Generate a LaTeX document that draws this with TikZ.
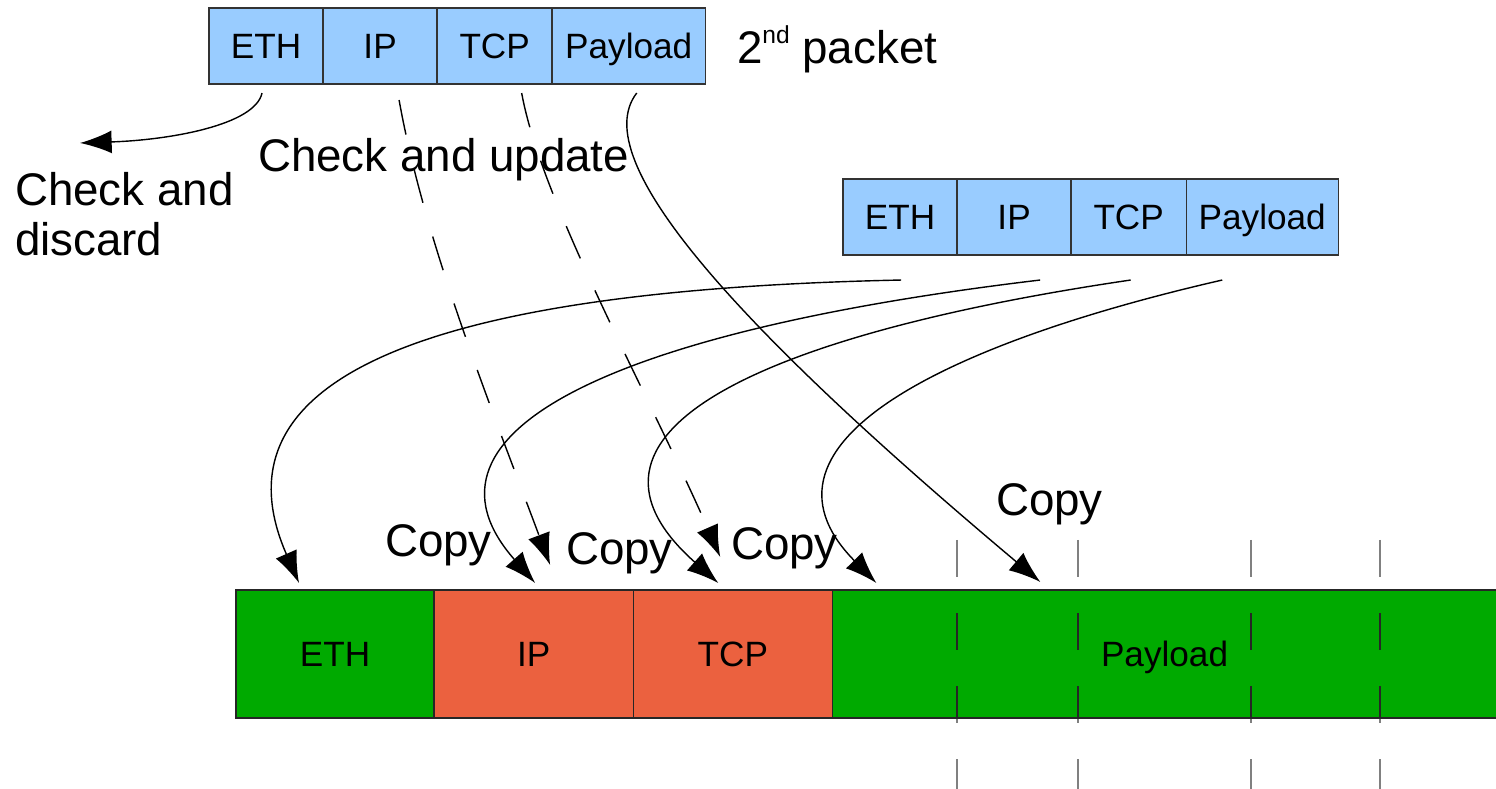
\documentclass[tikz,border=0pt]{standalone}
\usepackage{fontspec}
\setmainfont{Liberation Sans}
\usetikzlibrary{positioning,calc,arrows.meta}
\definecolor{hdrblue}{HTML}{99CCFF}
\definecolor{bufgreen}{HTML}{00AA00}
\definecolor{bufred}{HTML}{EB613F}

\begin{document}
\begin{tikzpicture}[x=0.01cm,y=-0.01cm,
    every node/.append style={outer sep=0pt},
    hdr/.style={draw=black!80,fill=hdrblue,minimum height=0.76cm,inner sep=0pt,text height=7.2pt,text depth=0pt,font=\fontsize{10}{12}\selectfont},
    buf/.style={draw=black!85,minimum height=1.28cm,inner sep=0pt,text height=7.2pt,text depth=0pt,font=\fontsize{10}{12}\selectfont},
    big/.style={inner sep=0pt,font=\fontsize{13}{14.2}\selectfont},
    tip/.style={-{Latex[length=9pt,width=6.5pt]}},
    thin]
      \useasboundingbox (0,0) rectangle (1496,789);

      % 2nd packet
      \node [hdr,minimum width=1.14cm,anchor=north west] (e2) at (209,8) {ETH};
      \node [hdr,minimum width=1.14cm,right=0pt of e2] (i2) {IP};
      \node [hdr,minimum width=1.15cm,right=0pt of i2] (t2) {TCP};
      \node [hdr,minimum width=1.53cm,right=0pt of t2] (p2) {Payload};
      \node [big,anchor=base west] (lbl2) at (737,64) {2\raisebox{0.85ex}{\fontsize{7}{8}\selectfont nd} packet};

      % 1st packet
      \node [hdr,minimum width=1.14cm,anchor=north west] (e1) at (843,179) {ETH};
      \node [hdr,minimum width=1.14cm,right=0pt of e1] (i1) {IP};
      \node [hdr,minimum width=1.15cm,right=0pt of i1] (t1) {TCP};
      \node [hdr,minimum width=1.52cm,right=0pt of t1] (p1) {Payload};

      % buffer
      \node [buf,fill=bufgreen,minimum width=1.98cm,anchor=north west] (be) at (236,590) {ETH};
      \node [buf,fill=bufred,minimum width=1.99cm,right=0pt of be] (bi) {IP};
      \node [buf,fill=bufred,minimum width=1.99cm,right=0pt of bi] (bt) {TCP};
      \node [buf,fill=bufgreen,minimum width=6.64cm,right=0pt of bt] (bp) {Payload};

      % segment marks
      \foreach \x in {957,1078,1251,1380}
        \draw [black!50,dash pattern=on 10.53pt off 10.24pt] (\x,540) -- (\x,789);
      \begin{scope}
        \clip (bp.north west) rectangle (bp.south east);
        \foreach \x in {957,1078,1251,1380}
          \draw [black!85,dash pattern=on 10.53pt off 10.24pt] (\x,540) -- (\x,789);
      \end{scope}

      \node [big,anchor=base west] (upd) at (258,172) {Check and update};
      \node [big,anchor=north west,align=left] (disc) at (15,172) {Check and\\discard};
      \coordinate (dis) at (80,143);
      \node [big,anchor=base west] (cp1) at (385,557) {Copy};
      \node [big,anchor=base west] (cp2) at (566,565) {Copy};
      \node [big,anchor=base west] (cp3) at (731,560) {Copy};
      \node [big,anchor=base west] (cp4) at (996,516) {Copy};

      \draw[tip] ($(e2.south)+(-4,9)$) .. controls +(-7,32) and +(90,-3) .. (dis);
      \draw[tip,dash pattern=on 10pt off 10pt] ($(i2.south)+(19,16)$) .. controls +(25,140) and +(-60,-160) .. ($(bi.north west)+(116,-25)$);
      \draw[tip,dash pattern=on 10pt off 10pt] ($(t2.south)+(27,9)$) .. controls +(20,110) and +(-70,-160) .. ($(bt.north west)+(87,-33)$);
      \draw[tip] ($(p2.south)+(8,9)$) .. controls +(-52,67) and +(-300,-252) .. ($(bp.north west)+(208,-8)$);

      \draw[tip] ($(e1.south)+(1,25)$) .. controls +(-481,10) and +(-89,-203) .. ($(be.north west)+(63,-7)$);
      \draw[tip] ($(i1.south)+(26,25)$) .. controls +(-420,50) and +(-135,-153) .. ($(bi.north west)+(101,-7)$);
      \draw[tip] ($(t1.south)+(2,25)$) .. controls +(-340,50) and +(-178,-158) .. ($(bt.north west)+(85,-7)$);
      \draw[tip] ($(p1.south)+(-40,25)$) .. controls +(-262,60) and +(-141,-143) .. ($(bp.north west)+(44,-7)$);
    \end{tikzpicture}
\end{document}
